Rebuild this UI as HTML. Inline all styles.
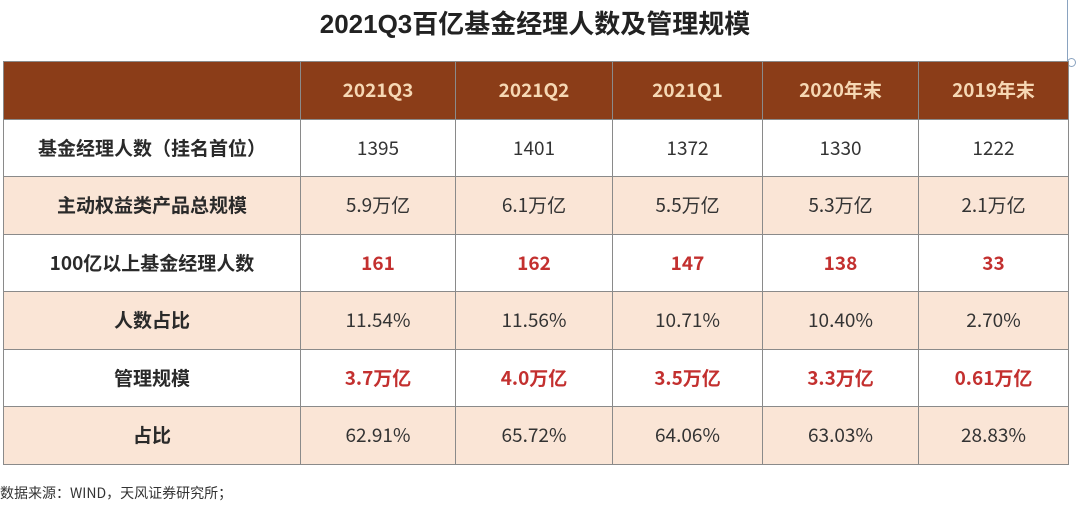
<!DOCTYPE html>
<html><head><meta charset="utf-8"><style>
body{margin:0;width:1080px;height:514px;background:#fff;position:relative;overflow:hidden;font-family:"Liberation Sans","Noto Sans CJK SC",sans-serif;}
#title{position:absolute;left:0;width:1070px;top:4px;text-align:center;font-size:26px;font-weight:bold;color:#222;}
#tframe{position:absolute;left:5px;top:0;width:1062px;height:61px;border-right:1px solid #8aa3c0;}
#knob{position:absolute;left:1067px;top:58px;width:7px;height:7px;border:1px solid #8aa3c0;border-radius:50%;background:#fff;}
table{position:absolute;left:3px;top:61px;border-collapse:collapse;table-layout:fixed;font-family:"Noto Sans CJK SC","Liberation Sans",sans-serif;}
td{border:1.5px solid #8a8a8a;text-align:center;font-size:19px;color:#333;padding:0;line-height:24px;vertical-align:middle;}
tr{height:57.5px;}
tr.h td{background:#8b3d18;color:#f6d8b4;font-weight:bold;font-size:19px;height:56px;}
tr.p td{background:#fae5d6;}
td.l{font-weight:bold;color:#2a2a2a;}
td.r{color:#c3302f;font-weight:bold;}
#note{position:absolute;left:0;top:483px;font-size:14px;color:#333;font-family:"Noto Sans CJK SC","Liberation Sans",sans-serif;}
</style></head><body>
<div id="tframe"></div>
<div id="knob"></div>
<div id="title">2021Q3百亿基金经理人数及管理规模</div>
<table>
<colgroup><col style="width:297px"><col style="width:155px"><col style="width:157px"><col style="width:150px"><col style="width:156px"><col style="width:150px"></colgroup>
<tr class="h"><td></td><td>2021Q3</td><td>2021Q2</td><td>2021Q1</td><td>2020年末</td><td>2019年末</td></tr>
<tr><td class="l">基金经理人数（挂名首位）</td><td>1395</td><td>1401</td><td>1372</td><td>1330</td><td>1222</td></tr>
<tr class="p"><td class="l">主动权益类产品总规模</td><td>5.9万亿</td><td>6.1万亿</td><td>5.5万亿</td><td>5.3万亿</td><td>2.1万亿</td></tr>
<tr><td class="l">100亿以上基金经理人数</td><td class="r">161</td><td class="r">162</td><td class="r">147</td><td class="r">138</td><td class="r">33</td></tr>
<tr class="p"><td class="l">人数占比</td><td>11.54%</td><td>11.56%</td><td>10.71%</td><td>10.40%</td><td>2.70%</td></tr>
<tr><td class="l">管理规模</td><td class="r">3.7万亿</td><td class="r">4.0万亿</td><td class="r">3.5万亿</td><td class="r">3.3万亿</td><td class="r">0.61万亿</td></tr>
<tr class="p"><td class="l">占比</td><td>62.91%</td><td>65.72%</td><td>64.06%</td><td>63.03%</td><td>28.83%</td></tr>
</table>
<div id="note">数据来源：WIND，天风证券研究所；</div>
</body></html>
